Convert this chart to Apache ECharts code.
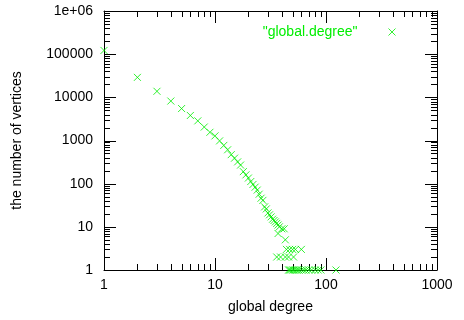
<!DOCTYPE html>
<html><head><meta charset="utf-8">
<script src="https://cdn.jsdelivr.net/npm/echarts@6/dist/echarts.min.js"></script>
<style>html,body{margin:0;padding:0;background:#fff}#c{width:464px;height:320px}</style>
</head><body><div id="c"></div>
<script>
const seriesName = '"global.degree"';
const degrees = [1,2,3,4,5,6,7,8,9,10,11,12,13,14,15,16,17,18,19,20,21,22,23,24,25,26,27,28,29,30,31,32,33,34,35,36,37,38,40,42,37,43,
  44,47,50,53,60,
  36,39,43,46,51,
  46,47,48,50,51,53,55,57,60,63,66,70,74,80,85,90,123];
const counts = [122000,29000,13800,8200,5500,3800,2850,2050,1550,1280,980,770,610,470,390,320,270,190,160,135,112,96,83,71,57,46,41,29,26,21,19,17,15,14,13,12,11,10,9,9,7,5,
  3,3,3,3,3,
  2,2,2,2,2,
  1,1,1,1,1,1,1,1,1,1,1,1,1,1,1,1,1];
const xTickLabels = ['1','10','100','1000'];
const yTickLabels = ['1','10','100','1000','10000','100000','1e+06'];
const xMajorTicks = [1,10,100,1000];
const xMinorTicks = [2,3,4,5,6,7,8,9,20,30,40,50,60,70,80,90,200,300,400,500,600,700,800,900];
const yMajorTicks = [1,10,100,1000,10000,100000,1000000];
const yMinorTicks = [2,3,4,5,6,7,8,9,20,30,40,50,60,70,80,90,200,300,400,500,600,700,800,900,
  2000,3000,4000,5000,6000,7000,8000,9000,20000,30000,40000,50000,60000,70000,80000,90000,
  200000,300000,400000,500000,600000,700000,800000,900000];

const green = '#00ee00';
const font = "'Liberation Sans', Arial, Helvetica, sans-serif";
const xMark = 'path://M0,0L10,10M10,0L0,10';
const points = degrees.map((d, i) => [d, counts[i]]);
const MAJOR = 12, MINOR = 6;
const xTickData = xMajorTicks.map(v => [v, 1, MAJOR]).concat(xMinorTicks.map(v => [v, 1, MINOR]));
const yTickData = yMajorTicks.map(v => [1, v, MAJOR]).concat(yMinorTicks.map(v => [1, v, MINOR]));

function lbl(arr) { return v => arr[Math.round(Math.log10(v))] ?? ''; }
const tickStyle = { stroke: '#000', lineWidth: 1 };

function xTickRender(params, api) {
  const v = api.value(0), len = api.value(2);
  const b = api.coord([v, 1]), t = api.coord([v, 1000000]);
  const x = Math.round(b[0]) + 0.5;
  return { type: 'group', children: [
    { type: 'line', shape: { x1: x, y1: b[1], x2: x, y2: b[1] - len }, style: tickStyle },
    { type: 'line', shape: { x1: x, y1: t[1], x2: x, y2: t[1] + len }, style: tickStyle }
  ]};
}
function yTickRender(params, api) {
  const v = api.value(1), len = api.value(2);
  const l = api.coord([1, v]), r = api.coord([1000, v]);
  const y = Math.round(l[1]) + 0.5;
  return { type: 'group', children: [
    { type: 'line', shape: { x1: l[0], y1: y, x2: l[0] + len, y2: y }, style: tickStyle },
    { type: 'line', shape: { x1: r[0], y1: y, x2: r[0] - len, y2: y }, style: tickStyle }
  ]};
}

function xAx(pos, show) {
  return {
    type: 'log', logBase: 10, min: 1, max: 1000, position: pos,
    axisLine: { show: true, onZero: false, lineStyle: { color: '#000', width: 1 } },
    axisTick: { show: false }, minorTick: { show: false },
    splitLine: { show: false }, minorSplitLine: { show: false },
    axisLabel: { show: show, formatter: lbl(xTickLabels), color: '#000', fontSize: 14, fontFamily: font, margin: 8 },
    name: show ? 'global degree' : '', nameLocation: 'middle', nameGap: 30,
    nameTextStyle: { color: '#000', fontSize: 14, fontFamily: font }
  };
}
function yAx(pos, show) {
  return {
    type: 'log', logBase: 10, min: 1, max: 1000000, position: pos,
    axisLine: { show: true, onZero: false, lineStyle: { color: '#000', width: 1 } },
    axisTick: { show: false }, minorTick: { show: false },
    splitLine: { show: false }, minorSplitLine: { show: false },
    axisLabel: { show: show, formatter: lbl(yTickLabels), color: '#000', fontSize: 14, fontFamily: font, margin: 11 },
    name: show ? 'the number of vertices' : '', nameLocation: 'middle', nameGap: 80,
    nameTextStyle: { color: '#000', fontSize: 14, fontFamily: font }
  };
}

const chart = echarts.init(document.getElementById('c'), null, { renderer: 'canvas' });
chart.setOption({
  animation: false,
  backgroundColor: '#fff',
  grid: { left: 104, right: 27, top: 11, bottom: 50, containLabel: false, outerBoundsMode: 'none' },
  legend: {
    data: [seriesName], right: 61, top: 20, align: 'right',
    itemWidth: 7, itemHeight: 7, icon: xMark,
    textStyle: { color: green, fontSize: 14, fontFamily: font, padding: [0, 26, 0, 0] },
    itemStyle: { color: 'none', borderColor: green, borderWidth: 1 }
  },
  xAxis: [xAx('bottom', true), xAx('top', false)],
  yAxis: [yAx('left', true), yAx('right', false)],
  series: [
    { type: 'custom', name: 'xticks', xAxisIndex: 0, yAxisIndex: 0, data: xTickData,
      renderItem: xTickRender, silent: true, clip: false, z: 1 },
    { type: 'custom', name: 'yticks', xAxisIndex: 0, yAxisIndex: 0, data: yTickData,
      renderItem: yTickRender, silent: true, clip: false, z: 1 },
    { name: seriesName, type: 'scatter', xAxisIndex: 0, yAxisIndex: 0,
      data: points, symbol: xMark, symbolSize: 7, z: 3,
      itemStyle: { color: 'none', borderColor: green, borderWidth: 1 } }
  ]
});
</script></body></html>
